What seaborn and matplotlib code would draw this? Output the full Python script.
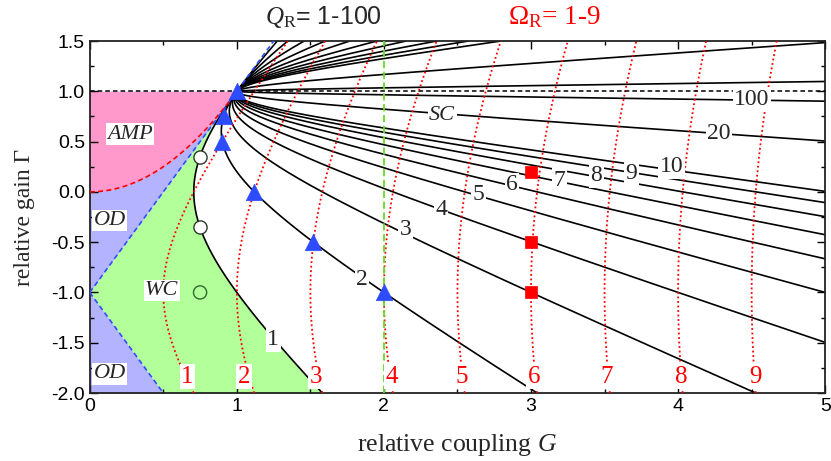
import numpy as np
import pandas as pd
import matplotlib
matplotlib.use("Agg")
import matplotlib.pyplot as plt
import seaborn as sns
from matplotlib.ticker import MultipleLocator

# contour levels
q_levels = [1, 2, 3, 4, 5, 6, 7, 8, 9, 10, 20, 100]
omega_levels = [1, 2, 3, 4, 5, 6, 7, 8, 9]

# markers
tri_g = [1.0, 0.91, 0.90, 1.12, 1.52, 2.0]
tri_gamma = [1.0, 0.75, 0.5, 0.0, -0.5, -1.0]
circ_g = [0.75, 0.75]
circ_gamma = [0.35, -0.35]
circ2_g = [0.75]
circ2_gamma = [-1.0]
sq_g = [3.0, 3.0, 3.0]
sq_gamma = [0.2, -0.5, -1.0]

# label positions (G, Gamma)
q_labels = ["1", "2", "3", "4", "5", "6", "7", "8", "9", "10", "20", "100"]
q_label_g = [1.247, 1.85, 2.146, 2.389, 2.643, 2.872, 3.195, 3.445, 3.683, 3.955, 4.278, 4.50]
q_label_gamma = [-1.47, -0.876, -0.379, -0.18, -0.024, 0.069, 0.118, 0.158, 0.185, 0.25, 0.583, 0.923]
om_label_g = [0.663, 1.049, 1.537, 2.053, 2.53, 3.02, 3.513, 4.024, 4.528]
om_label_gamma = -1.84

serif = "Liberation Serif"
sans = "Liberation Sans"

sns.set_style("ticks")
plt.rcParams["font.family"] = [sans, "DejaVu Sans"]
plt.rcParams["mathtext.fontset"] = "custom"
plt.rcParams["mathtext.rm"] = serif
plt.rcParams["mathtext.it"] = serif + ":italic"


def q_curve(q, gam):
    return np.sqrt((1 + gam) ** 2 + q ** 2 * (1 - gam) ** 2) / 2


def omega_curve(om, gam):
    return np.sqrt(om ** 2 + (1 + gam) ** 2) / 2


fig = plt.figure(figsize=(8.31, 4.61), dpi=100)
ax = fig.add_axes([0.108, 0.1475, 0.885, 0.7635])

# regions: OD (blue), WC (green), AMP (pink)
gam = np.linspace(-2, 1, 1500)
ax.fill_betweenx(gam, 0, np.abs(1 + gam) / 2, color="#b3b3ff", lw=0, zorder=0)
ax.fill_betweenx(gam, np.abs(1 + gam) / 2, q_curve(1, gam), color="#b3ff99", lw=0, zorder=0)
gp = np.linspace(0, 1, 500)
ax.fill_betweenx(gp, 0, np.sqrt(gp), color="#ff99cc", lw=0, zorder=0)

# Q_R curves
below = np.concatenate([np.linspace(-2, 0.9, 2000), 1 - np.geomspace(0.1, 1e-7, 3000)])
above = 1 + np.geomspace(1e-7, 0.5, 3000)
for q in q_levels:
    ax.plot(q_curve(q, below), below, color="black", lw=1.2, zorder=2)
    ax.plot(q_curve(q, above), above, color="black", lw=1.2, zorder=2)

# Omega_R curves
gfull = np.linspace(-2, 1.5, 800)
for om in omega_levels:
    ax.plot(omega_curve(om, gfull), gfull, color="red", lw=1.3, ls=(0, (1, 1.5)), zorder=3)

# boundary lines
ax.plot([0, 1.25], [-1, 1.5], color="#2f4fff", lw=1.2, ls=(0, (3, 2)), zorder=3)
ax.plot([0, 0.5], [-1, -2], color="#2f4fff", lw=1.2, ls=(0, (3, 2)), zorder=3)
gg = np.linspace(0, 1, 200)
ax.plot(gg, gg ** 2, color="red", lw=1.2, ls=(0, (3, 2)), zorder=3)
ax.plot([0, 5], [1, 1], color="black", lw=1.1, ls=(0, (3, 2)), zorder=3)
ax.plot([2, 2], [-2, 1.5], color="#66dd22", lw=1.3, ls=(0, (4, 2)), zorder=3)

# markers
sns.scatterplot(x=tri_g, y=tri_gamma, marker="^", s=140, color="#2d4cff",
                edgecolor="#2d4cff", linewidth=0.5, ax=ax, zorder=5, legend=False)
sns.scatterplot(x=circ_g, y=circ_gamma, marker="o", s=90, color="white",
                edgecolor="#2a3a2a", linewidth=1.0, ax=ax, zorder=5, legend=False)
sns.scatterplot(x=circ2_g, y=circ2_gamma, marker="o", s=90, facecolor="none",
                edgecolor="#2d6b2d", linewidth=1.0, ax=ax, zorder=5, legend=False)
sns.scatterplot(x=sq_g, y=sq_gamma, marker="s", s=70, color="red",
                edgecolor="red", linewidth=0.5, ax=ax, zorder=5, legend=False)

box = dict(facecolor="white", edgecolor="none", pad=1.0)
for lab, x, y in zip(q_labels, q_label_g, q_label_gamma):
    ax.text(x, y, lab, fontsize=17, family=serif, ha="center", va="center",
            bbox=box, zorder=6)
for om, x in zip(omega_levels, om_label_g):
    ax.text(x, om_label_gamma, str(om), fontsize=18, family=serif, color="red",
            ha="center", va="center", bbox=box, zorder=6)

for lab, x, y in [("AMP", 0.272, 0.575), ("OD", 0.136, -0.286), ("OD", 0.136, -1.81),
                  ("WC", 0.488, -0.98), ("SC", 2.396, 0.764)]:
    ax.text(x, y, lab, fontsize=16, family=serif, style="italic", ha="center",
            va="center", bbox=box, zorder=6)

ax.set_xlim(0, 5)
ax.set_ylim(-2, 1.5)
ax.xaxis.set_major_locator(MultipleLocator(1))
ax.xaxis.set_minor_locator(MultipleLocator(0.5))
ax.yaxis.set_major_locator(MultipleLocator(0.5))
ax.yaxis.set_minor_locator(MultipleLocator(0.25))
ax.set_yticks(np.arange(-2, 1.51, 0.5))
ax.set_yticklabels([f"{v:.1f}" for v in np.arange(-2, 1.51, 0.5)])
ax.tick_params(which="both", direction="in", top=True, right=True, labelsize=14,
               width=1.0, colors="black")
ax.tick_params(which="major", length=6)
ax.tick_params(which="minor", length=3)
for sp in ax.spines.values():
    sp.set_color("#222222")
    sp.set_linewidth(1.3)

ax.set_xlabel(r"relative coupling $G$", fontsize=18.5, family=serif, labelpad=12)
ax.set_ylabel("relative gain Γ", fontsize=17, family=serif, labelpad=12)

fig.text(265 / 831, 1 - 17 / 461, r"$Q_\mathrm{R}$= 1-100", fontsize=18, family=sans,
         ha="left", va="center")
fig.text(508 / 831, 1 - 17 / 461, r"$\Omega_\mathrm{R}$= 1-9", fontsize=19.5, family=serif,
         color="red", ha="left", va="center")

fig.savefig("out.png", dpi=100)
